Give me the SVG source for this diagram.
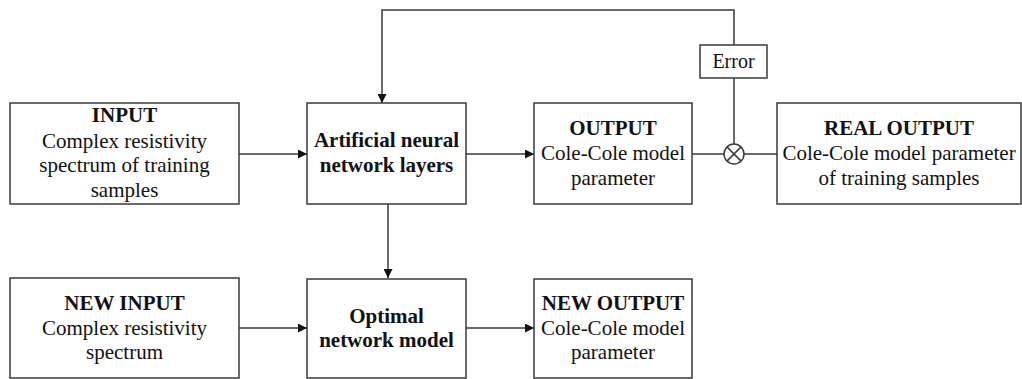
<svg xmlns="http://www.w3.org/2000/svg" width="1022" height="379" viewBox="0 0 1022 379">
  <style>
    .box { fill: #ffffff; stroke: #3a3a3a; stroke-width: 1.5; }
    .wire { fill: none; stroke: #3a3a3a; stroke-width: 1.5; }
    .arrow { fill: none; stroke: #3a3a3a; stroke-width: 1.5; marker-end: url(#head); }
    text { font-family: "Liberation Serif", "Times New Roman", serif; font-size: 21px; fill: #111111; text-anchor: middle; }
    .b { font-weight: bold; }
  </style>
  <defs>
    <marker id="head" viewBox="0 0 10 10" refX="10" refY="5" markerWidth="9" markerHeight="9" markerUnits="userSpaceOnUse" orient="auto">
      <path d="M0,0 L10,5 L0,10 Z" fill="#111111"/>
    </marker>
  </defs>

  <rect width="1022" height="379" fill="#ffffff"/>

  <!-- connectors -->
  <g id="connectors">
    <line class="arrow" x1="239" y1="154" x2="307" y2="154"/>
    <line class="arrow" x1="466" y1="154" x2="534" y2="154"/>
    <line class="wire" x1="692" y1="154" x2="724" y2="154"/>
    <line class="wire" x1="744" y1="154" x2="777" y2="154"/>
    <line class="wire" x1="734" y1="144" x2="734" y2="78"/>
    <polyline class="arrow" points="734,45 734,10 382,10 382,103"/>
    <line class="arrow" x1="388" y1="204" x2="388" y2="278"/>
    <line class="arrow" x1="239" y1="328" x2="307" y2="328"/>
    <line class="arrow" x1="466" y1="328" x2="534" y2="328"/>
  </g>

  <g id="input">
    <rect class="box" x="10" y="103" width="229" height="101"/>
    <text class="b" x="124.5" y="122">INPUT</text>
    <text x="124.5" y="148">Complex resistivity</text>
    <text x="124.5" y="172">spectrum of training</text>
    <text x="124.5" y="197">samples</text>
  </g>

  <g id="ann">
    <rect class="box" x="307" y="103" width="159" height="101"/>
    <text class="b" x="386.5" y="147">Artificial neural</text>
    <text class="b" x="386.5" y="172">network layers</text>
  </g>

  <g id="output">
    <rect class="box" x="534" y="103" width="158" height="101"/>
    <text class="b" x="613" y="135">OUTPUT</text>
    <text x="613" y="160">Cole-Cole model</text>
    <text x="613" y="185">parameter</text>
  </g>

  <g id="comparator">
    <circle class="wire" cx="734" cy="154" r="10"/>
    <line class="wire" x1="726.9" y1="146.9" x2="741.1" y2="161.1"/>
    <line class="wire" x1="741.1" y1="146.9" x2="726.9" y2="161.1"/>
  </g>

  <g id="error">
    <rect class="box" x="700" y="45" width="67" height="33"/>
    <text x="733.5" y="68" style="font-size:20px">Error</text>
  </g>

  <g id="real-output">
    <rect class="box" x="777" y="103" width="244" height="101"/>
    <text class="b" x="899" y="135">REAL OUTPUT</text>
    <text x="899" y="160">Cole-Cole model parameter</text>
    <text x="899" y="185">of training samples</text>
  </g>

  <g id="new-input">
    <rect class="box" x="10" y="278" width="229" height="100"/>
    <text class="b" x="124.5" y="310">NEW INPUT</text>
    <text x="124.5" y="335">Complex resistivity</text>
    <text x="124.5" y="359">spectrum</text>
  </g>

  <g id="optimal">
    <rect class="box" x="307" y="279" width="159" height="99"/>
    <text class="b" x="386.5" y="323">Optimal</text>
    <text class="b" x="386.5" y="347">network model</text>
  </g>

  <g id="new-output">
    <rect class="box" x="534" y="279" width="158" height="99"/>
    <text class="b" x="613" y="310">NEW OUTPUT</text>
    <text x="613" y="335">Cole-Cole model</text>
    <text x="613" y="359">parameter</text>
  </g>
</svg>
